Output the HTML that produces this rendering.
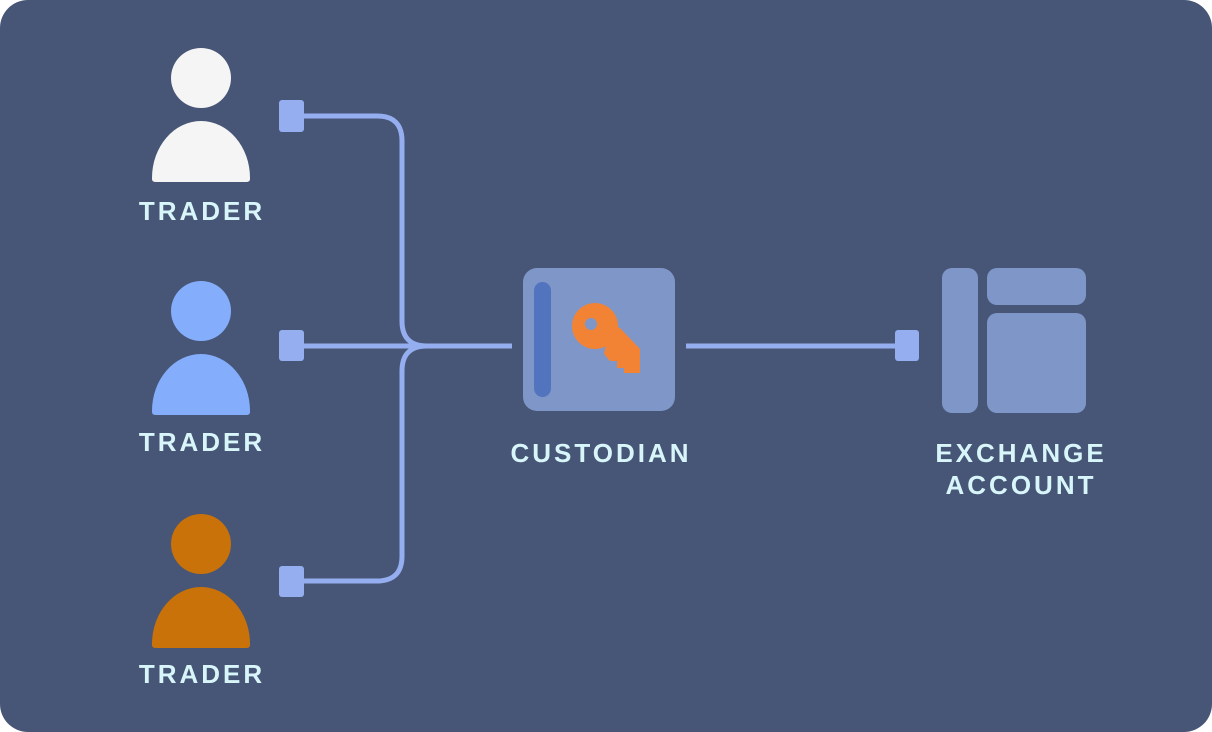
<!DOCTYPE html>
<html><head><meta charset="utf-8"><style>
html,body{margin:0;padding:0;background:#fff;}
svg{display:block}
text{font-family:"Liberation Sans",sans-serif;font-weight:bold;fill:#d8f6fa;letter-spacing:3px;font-size:26px}
</style></head><body>
<svg width="1212" height="732" viewBox="0 0 1212 732" xmlns="http://www.w3.org/2000/svg">
<rect x="0" y="0" width="1212" height="732" rx="28" fill="#475676"/>
<g fill="#f5f5f5">
<circle cx="201" cy="78" r="30"/>
<path d="M152 178 A49 57 0 0 1 250 178 L250 179 Q250 182 246 182 L156 182 Q152 182 152 179 Z"/>
</g>
<g fill="#84aefc">
<circle cx="201" cy="311" r="30"/>
<path d="M152 411 A49 57 0 0 1 250 411 L250 412 Q250 415 246 415 L156 415 Q152 415 152 412 Z"/>
</g>
<g fill="#c97209">
<circle cx="201" cy="544" r="30"/>
<path d="M152 644 A49 57 0 0 1 250 644 L250 645 Q250 648 246 648 L156 648 Q152 648 152 645 Z"/>
</g>
<text x="202" y="220" text-anchor="middle">TRADER</text>
<text x="202" y="451" text-anchor="middle">TRADER</text>
<text x="202" y="683" text-anchor="middle">TRADER</text>
<g stroke="#94aef0" stroke-width="5" fill="none">
<path d="M300 116 L377 116 Q402 116 402 141 L402 321 Q402 346 427 346"/>
<path d="M300 346 L512 346"/>
<path d="M300 581 L377 581 Q402 581 402 556 L402 371 Q402 346 427 346"/>
<path d="M686 346 L900 346"/>
</g>
<g fill="#94aef0">
<rect x="279" y="100" width="25" height="32" rx="3"/>
<rect x="279" y="330" width="25" height="31" rx="3"/>
<rect x="279" y="566" width="25" height="31" rx="3"/>
<rect x="895" y="330" width="24" height="31" rx="3"/>
</g>
<rect x="523" y="268" width="152" height="143" rx="14" fill="#7f96c9"/>
<rect x="534" y="282" width="17" height="115" rx="8.5" fill="#5273bd"/>
<g fill="#f28334">
<circle cx="595" cy="326" r="23"/>
<polygon points="607,340 619,327 640,349 640,373 624,373 624,368 617,368 617,361 610,361 604,354"/>
</g>
<circle cx="591" cy="324" r="6" fill="#7f96c9"/>
<text x="601" y="462" text-anchor="middle">CUSTODIAN</text>
<g fill="#7f96c9">
<rect x="942" y="268" width="36" height="145" rx="10"/>
<rect x="987" y="268" width="99" height="37" rx="10"/>
<rect x="987" y="313" width="99" height="100" rx="10"/>
</g>
<text x="1021" y="462" text-anchor="middle">EXCHANGE</text>
<text x="1021" y="494" text-anchor="middle">ACCOUNT</text>
</svg>
</body></html>
